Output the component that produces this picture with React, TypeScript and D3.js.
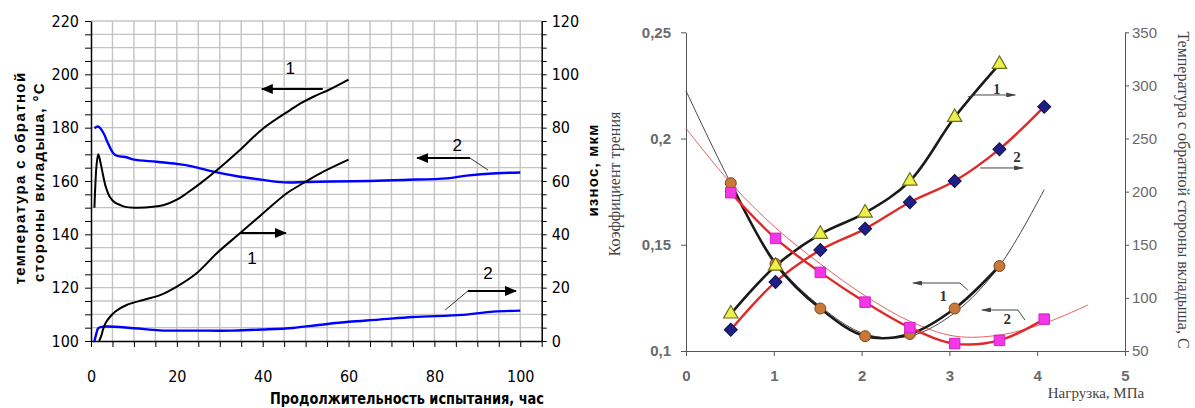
import React, { useEffect, useRef } from 'react';
import * as d3 from 'd3';

// ---------- Left chart data ----------
const temp1Hours = [0.8, 1.0, 1.3, 1.7, 2.2, 2.9, 3.5, 4.4, 5.5, 6.8, 8, 10, 14.5, 17, 20, 22.3, 25.4, 29.3, 34.7, 40.1, 46.4, 48.7, 51.8, 55.7, 60];
const temp1Values = [150, 158, 166, 170, 167, 161.5, 157.5, 154, 152, 151, 150.3, 150, 150.3, 151, 153, 155.4, 159, 164, 171.6, 179.7, 186.6, 189, 191.6, 194.4, 198];

const temp2Hours = [0.8, 1.7, 2.9, 4, 5.6, 8.3, 10, 15.3, 20, 23.8, 28.5, 34.7, 40, 45, 50, 56, 65, 72.8, 82.9, 87.5, 94.5, 100];
const temp2Values = [179.8, 180.4, 178, 174, 169.8, 168.9, 168, 167.2, 166.4, 165.4, 163.5, 161.6, 160.4, 159.5, 159.6, 159.8, 160, 160.4, 161, 162, 162.9, 163.2];

const wear1Hours = [1.9, 2.4, 2.9, 3.5, 4.4, 5.6, 8.3, 12.2, 16.1, 20, 24.6, 29.3, 34.7, 40.1, 45.6, 48.7, 53.4, 60];
const wear1Values = [0, 2, 4.8, 7, 9, 11, 13.5, 15.4, 17.2, 20.4, 25.4, 32.9, 40.4, 47.9, 55.4, 58.5, 62.9, 68];

const wear2Hours = [0.8, 1.2, 1.7, 2.9, 10, 16, 25, 33, 40, 47, 53, 60, 67, 75, 86.7, 93.7, 100];
const wear2Values = [0, 2.5, 4.8, 5.4, 4.8, 4, 3.9, 3.9, 4.3, 4.9, 6, 7.2, 8, 9, 9.8, 11, 11.4];

const hourTicks = [0, 20, 40, 60, 80, 100];
const tempTicks = [100, 120, 140, 160, 180, 200, 220];
const wearTicks = [0, 20, 40, 60, 80, 100, 120];

// ---------- Right chart data ----------
const loadMPa = [0.51, 1.02, 1.53, 2.04, 2.55, 3.06, 3.57, 4.08];
const friction1 = [0.179, 0.141, 0.12, 0.107, 0.108, 0.12, 0.14];
const friction2 = [0.1745, 0.153, 0.137, 0.123, 0.111, 0.1035, 0.105, 0.115];
const temperature1 = [85, 130, 160, 180, 210, 270, 320];
const temperature2 = [70, 115, 145, 165, 190, 210, 240, 280];
const trend1Load = [0, 0.51, 1.02, 1.53, 2.04, 2.55, 3.06, 3.57, 4.08];
const trend1Friction = [0.2225, 0.179, 0.142, 0.121, 0.108, 0.107, 0.118, 0.14, 0.176];
const trend2Load = [0, 0.51, 1.02, 1.53, 2.04, 2.55, 3.06, 3.57, 4.08, 4.58];
const trend2Friction = [0.2048, 0.179, 0.158, 0.141, 0.126, 0.114, 0.107, 0.1075, 0.113, 0.1217];

const loadTicks = [0, 1, 2, 3, 4, 5];
const frictionTicks = [0.1, 0.15, 0.2, 0.25];
const frictionTickLabels = ['0,1', '0,15', '0,2', '0,25'];
const bearingTempTicks = [50, 100, 150, 200, 250, 300, 350];

const NARROW = "'Liberation Sans Narrow', 'DejaVu Sans Condensed', 'Liberation Sans', Arial, sans-serif";
const SERIF = "'Liberation Serif', 'Times New Roman', serif";
const SANS = "'Liberation Sans', Arial, sans-serif";

export default function App() {
  const ref = useRef<SVGSVGElement>(null);

  useEffect(() => {
    const svg = d3.select(ref.current);
    svg.selectAll('*').remove();

    const defs = svg.append('defs');
    defs.append('marker').attr('id', 'bigHead').attr('markerUnits', 'userSpaceOnUse')
      .attr('markerWidth', 12).attr('markerHeight', 10).attr('refX', 11).attr('refY', 5)
      .attr('orient', 'auto')
      .append('path').attr('d', 'M0,0 L12,5 L0,10 Z').attr('fill', '#000');
    defs.append('marker').attr('id', 'smallHead').attr('markerUnits', 'userSpaceOnUse')
      .attr('markerWidth', 10).attr('markerHeight', 5).attr('refX', 9).attr('refY', 2.5)
      .attr('orient', 'auto')
      .append('path').attr('d', 'M0,0 L10,2.5 L0,5 Z').attr('fill', '#444');

    // ================= LEFT CHART =================
    const xL = d3.scaleLinear().domain([0, 105]).range([91, 541.7]);
    const yL = d3.scaleLinear().domain([100, 220]).range([341, 21]);
    const yLR = d3.scaleLinear().domain([0, 120]).range([341, 21]);

    const gL = svg.append('g');
    gL.append('g').selectAll('line').data(d3.range(5, 105, 5)).join('line')
      .attr('x1', d => xL(d)).attr('x2', d => xL(d)).attr('y1', yL(100)).attr('y2', yL(220))
      .attr('stroke', '#c4c4c4').attr('stroke-width', 1.4);
    gL.append('g').selectAll('line').data(d3.range(105, 221, 5)).join('line')
      .attr('x1', xL(0)).attr('x2', xL(105)).attr('y1', d => yL(d)).attr('y2', d => yL(d))
      .attr('stroke', '#c4c4c4').attr('stroke-width', 1.4);

    const styleAxis = (g: any, size: number, family: string, weight: string, color: string) => {
      g.attr('font-family', family).attr('font-size', size).attr('font-weight', weight);
      g.selectAll('text').attr('fill', color);
      g.selectAll('line').attr('stroke', color);
      g.selectAll('path.domain').attr('stroke', color);
    };

    const axL = gL.append('g').attr('transform', `translate(${xL(0)},0)`)
      .call(d3.axisLeft(yL).tickValues(d3.range(100, 221, 5))
        .tickFormat((d: any) => (tempTicks.includes(d) ? String(d) : '')).tickSize(6).tickSizeOuter(0).tickPadding(6));
    styleAxis(axL, 16, NARROW, 'normal', '#000');
    axL.select('path.domain').attr('stroke-width', 1.5);

    const axR = gL.append('g').attr('transform', `translate(${xL(105)},0)`)
      .call(d3.axisRight(yLR).tickValues(d3.range(0, 121, 5))
        .tickFormat((d: any) => (wearTicks.includes(d) ? String(d) : '')).tickSize(5).tickSizeOuter(0).tickPadding(5));
    styleAxis(axR, 16, NARROW, 'normal', '#000');
    axR.select('path.domain').attr('stroke-width', 1.5);

    const axB = gL.append('g').attr('transform', `translate(0,${yL(100)})`)
      .call(d3.axisBottom(xL).tickValues(d3.range(0, 106, 5))
        .tickFormat((d: any) => (hourTicks.includes(d) ? String(d) : '')).tickSize(6).tickSizeOuter(0).tickPadding(24));
    styleAxis(axB, 16, NARROW, 'normal', '#000');
    axB.select('path.domain').attr('stroke-width', 1.5);

    const smooth = d3.curveCatmullRom.alpha(0.5);
    const lineT = d3.line<[number, number]>().x(d => xL(d[0])).y(d => yL(d[1])).curve(smooth);
    const lineW = d3.line<[number, number]>().x(d => xL(d[0])).y(d => yLR(d[1])).curve(smooth);
    const zip = (a: number[], b: number[]) => a.map((v, i) => [v, b[i]] as [number, number]);

    gL.append('path').attr('d', lineT(zip(temp2Hours, temp2Values))).attr('fill', 'none').attr('stroke', '#0000ff').attr('stroke-width', 2.4);
    gL.append('path').attr('d', lineW(zip(wear2Hours, wear2Values))).attr('fill', 'none').attr('stroke', '#0000ff').attr('stroke-width', 2.4);
    gL.append('path').attr('d', lineT(zip(temp1Hours, temp1Values))).attr('fill', 'none').attr('stroke', '#000').attr('stroke-width', 2);
    gL.append('path').attr('d', lineW(zip(wear1Hours, wear1Values))).attr('fill', 'none').attr('stroke', '#000').attr('stroke-width', 2);

    // annotations (left)
    const annL = gL.append('g').attr('font-family', SANS).attr('font-size', 17).attr('fill', '#000').attr('text-anchor', 'middle');
    const bigArrow = (x1: number, y1: number, x2: number, y2: number) =>
      annL.append('line').attr('x1', xL(x1)).attr('y1', yL(y1)).attr('x2', xL(x2)).attr('y2', yL(y2))
        .attr('stroke', '#000').attr('stroke-width', 2).attr('marker-end', 'url(#bigHead)');
    const thinLine = (x1: number, y1: number, x2: number, y2: number) =>
      annL.append('line').attr('x1', xL(x1)).attr('y1', yL(y1)).attr('x2', xL(x2)).attr('y2', yL(y2))
        .attr('stroke', '#333').attr('stroke-width', 1);
    bigArrow(54, 194.5, 39.8, 194.5);
    annL.append('text').attr('x', xL(46.4)).attr('y', yL(202.4)).attr('dy', '0.35em').text('1');
    bigArrow(34.7, 140.5, 45.4, 140.5);
    annL.append('text').attr('x', xL(37.5)).attr('y', yL(131.1)).attr('dy', '0.35em').text('1');
    thinLine(88.3, 168.6, 92.5, 164.1);
    bigArrow(88.3, 168.6, 76.0, 168.6);
    annL.append('text').attr('x', xL(85.3)).attr('y', yL(173.5)).attr('dy', '0.35em').text('2');
    thinLine(87.8, 118.75, 82.5, 111.6);
    bigArrow(87.8, 118.75, 99.0, 118.75);
    annL.append('text').attr('x', xL(92.5)).attr('y', yL(125.5)).attr('dy', '0.35em').text('2');

    // titles (left)
    const tL = gL.append('g').attr('font-family', SANS).attr('font-weight', 'bold').attr('font-size', 15).attr('fill', '#000');
    tL.append('text').attr('transform', 'translate(25,178) rotate(-90)').attr('text-anchor', 'middle').attr('letter-spacing', 1.4)
      .text('температура с обратной');
    tL.append('text').attr('transform', 'translate(44,182) rotate(-90)').attr('text-anchor', 'middle').attr('letter-spacing', 1.4)
      .text('стороны вкладыша, °С');
    tL.append('text').attr('transform', 'translate(598,170) rotate(-90)').attr('text-anchor', 'middle').attr('letter-spacing', 1.2)
      .text('износ, мкм');
    gL.append('text').attr('x', 407).attr('y', 404).attr('text-anchor', 'middle')
      .attr('textLength', 274).attr('lengthAdjust', 'spacingAndGlyphs')
      .attr('font-family', NARROW).attr('font-weight', 'bold').attr('font-size', 16).text('Продолжительность испытания, час');

    // ================= RIGHT CHART =================
    const xR = d3.scaleLinear().domain([0, 5]).range([686, 1125]);
    const yF = d3.scaleLinear().domain([0.1, 0.25]).range([351, 32.3]);
    const yT = d3.scaleLinear().domain([50, 350]).range([351, 32.3]);
    const gR = svg.append('g');
    const gray = '#555';

    const axRL = gR.append('g').attr('transform', `translate(${xR(0)},0)`)
      .call(d3.axisLeft(yF).tickValues(frictionTicks).tickFormat((d: any, i: number) => frictionTickLabels[i]).tickSize(5).tickSizeOuter(0).tickPadding(10));
    styleAxis(axRL, 15, SANS, 'bold', gray);
    axRL.selectAll('text').attr('fill', '#6a6a6a');

    const axRR = gR.append('g').attr('transform', `translate(${xR(5)},0)`)
      .call(d3.axisRight(yT).tickValues(bearingTempTicks).tickFormat((d: any) => String(d)).tickSize(4).tickSizeOuter(0).tickPadding(3));
    styleAxis(axRR, 15, SANS, 'normal', gray);
    axRR.selectAll('text').attr('fill', '#6a6a6a');

    const axRB = gR.append('g').attr('transform', `translate(0,${yF(0.1)})`)
      .call(d3.axisBottom(xR).tickValues(loadTicks).tickFormat((d: any) => String(d)).tickSize(5).tickSizeOuter(0).tickPadding(14));
    styleAxis(axRB, 15, SANS, 'bold', gray);
    axRB.selectAll('text').attr('fill', '#6a6a6a');

    const lineF = d3.line<[number, number]>().x(d => xR(d[0])).y(d => yF(d[1])).curve(smooth);
    const lineTR = d3.line<[number, number]>().x(d => xR(d[0])).y(d => yT(d[1])).curve(smooth);

    gR.append('path').attr('d', lineF(zip(trend1Load, trend1Friction))).attr('fill', 'none').attr('stroke', '#333').attr('stroke-width', 0.9);
    gR.append('path').attr('d', lineF(zip(trend2Load, trend2Friction))).attr('fill', 'none').attr('stroke', '#e05050').attr('stroke-width', 0.9);

    gR.append('path').attr('d', lineTR(zip(loadMPa.slice(0, temperature1.length), temperature1))).attr('fill', 'none').attr('stroke', '#1a1a1a').attr('stroke-width', 2.6);
    gR.append('path').attr('d', lineTR(zip(loadMPa, temperature2))).attr('fill', 'none').attr('stroke', '#e02a2a').attr('stroke-width', 2.4);
    gR.append('path').attr('d', lineF(zip(loadMPa.slice(0, friction1.length), friction1))).attr('fill', 'none').attr('stroke', '#1a1a1a').attr('stroke-width', 2.6);
    gR.append('path').attr('d', lineF(zip(loadMPa, friction2))).attr('fill', 'none').attr('stroke', '#e02a2a').attr('stroke-width', 2.4);

    const sym = (type: any, size: number) => d3.symbol().type(type).size(size)();
    gR.append('g').selectAll('path').data(zip(loadMPa.slice(0, friction1.length), friction1)).join('path')
      .attr('transform', d => `translate(${xR(d[0])},${yF(d[1])})`).attr('d', sym(d3.symbolCircle, 95))
      .attr('fill', '#c87838').attr('stroke', '#7a4a22').attr('stroke-width', 1);
    gR.append('g').selectAll('path').data(zip(loadMPa, friction2)).join('path')
      .attr('transform', d => `translate(${xR(d[0])},${yF(d[1])})`).attr('d', sym(d3.symbolSquare, 110))
      .attr('fill', '#f536e6').attr('stroke', '#d020c8').attr('stroke-width', 1);
    gR.append('g').selectAll('path').data(zip(loadMPa, temperature2)).join('path')
      .attr('transform', d => `translate(${xR(d[0])},${yT(d[1])}) rotate(45)`).attr('d', sym(d3.symbolSquare, 85))
      .attr('fill', '#1e1e86').attr('stroke', '#10104a').attr('stroke-width', 1);
    gR.append('g').selectAll('path').data(zip(loadMPa.slice(0, temperature1.length), temperature1)).join('path')
      .attr('transform', d => `translate(${xR(d[0])},${yT(d[1])})`).attr('d', sym(d3.symbolTriangle, 90))
      .attr('fill', '#ecf04c').attr('stroke', '#6f6f1e').attr('stroke-width', 1.2);

    // annotations (right)
    const annR = gR.append('g').attr('font-family', SERIF).attr('font-size', 15).attr('font-weight', 'bold').attr('fill', '#333').attr('text-anchor', 'middle');
    const polyT = d3.line<[number, number]>().x(d => xR(d[0])).y(d => yT(d[1]));
    const polyF = d3.line<[number, number]>().x(d => xR(d[0])).y(d => yF(d[1]));
    annR.append('path').attr('d', polyT([[3.21, 289.1], [3.3, 291], [3.75, 291]])).attr('fill', 'none').attr('stroke', '#444').attr('stroke-width', 1).attr('marker-end', 'url(#smallHead)');
    annR.append('text').attr('x', xR(3.54)).attr('y', yT(297)).attr('dy', '0.35em').text('1');
    annR.append('path').attr('d', polyT([[3.35, 222.3], [3.84, 222.3]])).attr('fill', 'none').attr('stroke', '#444').attr('stroke-width', 1).attr('marker-end', 'url(#smallHead)');
    annR.append('text').attr('x', xR(3.77)).attr('y', yT(233)).attr('dy', '0.35em').text('2');
    annR.append('path').attr('d', polyF([[3.21, 0.1287], [3.12, 0.132], [2.585, 0.132]])).attr('fill', 'none').attr('stroke', '#444').attr('stroke-width', 1).attr('marker-end', 'url(#smallHead)');
    annR.append('text').attr('x', xR(2.93)).attr('y', yF(0.1259)).attr('dy', '0.35em').text('1');
    annR.append('path').attr('d', polyF([[3.86, 0.1146], [3.78, 0.1193], [3.37, 0.1193]])).attr('fill', 'none').attr('stroke', '#444').attr('stroke-width', 1).attr('marker-end', 'url(#smallHead)');
    annR.append('text').attr('x', xR(3.66)).attr('y', yF(0.1152)).attr('dy', '0.35em').text('2');

    // titles (right)
    gR.append('text').attr('transform', 'translate(620,184) rotate(-90)').attr('text-anchor', 'middle')
      .attr('font-family', SERIF).attr('font-size', 16).attr('fill', '#444').text('Коэффициент трения');
    gR.append('text').attr('transform', 'translate(1178,190) rotate(90)').attr('text-anchor', 'middle')
      .attr('font-family', SERIF).attr('font-size', 16).attr('fill', '#444').text('Температура с обратной стороны вкладыша, С');
    gR.append('text').attr('x', 1096).attr('y', 398).attr('text-anchor', 'middle')
      .attr('font-family', SERIF).attr('font-size', 15).attr('fill', '#444').text('Нагрузка, МПа');
  }, []);

  return (
    <svg ref={ref} width={1195} height={408} style={{ position: 'absolute', left: 0, top: 0, background: '#fff' }} />
  );
}
